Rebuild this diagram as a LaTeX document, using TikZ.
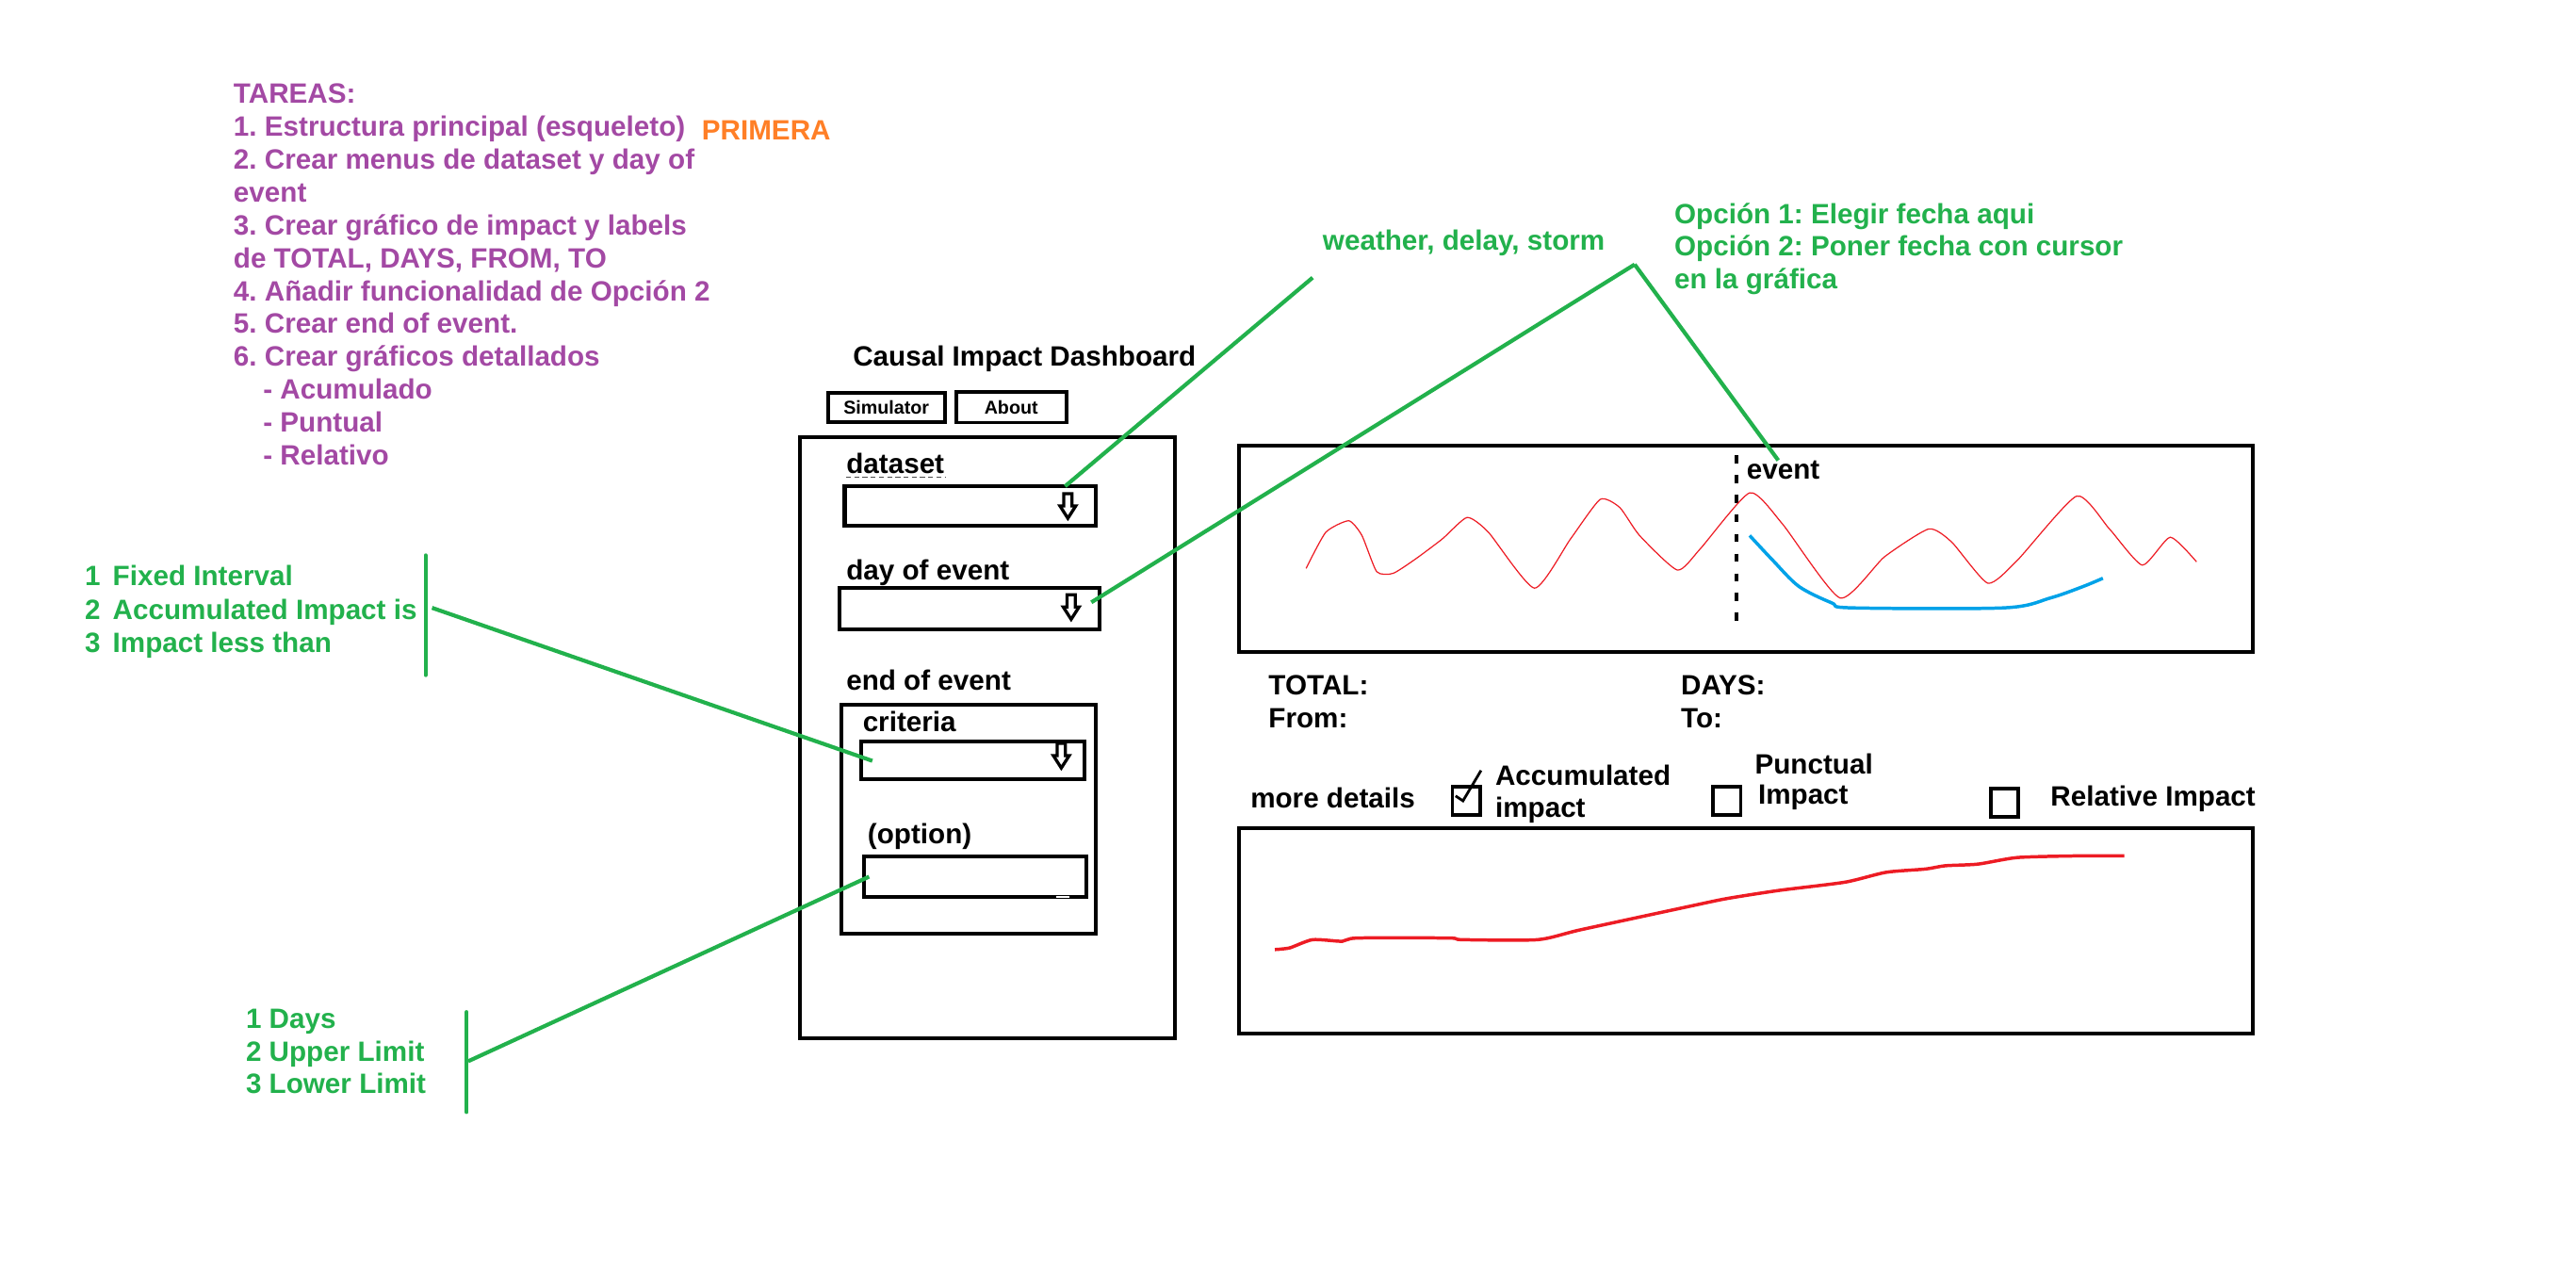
\documentclass[tikz,border=0pt]{standalone}
\usepackage{fontspec}
\setmainfont{Liberation Sans}
\usetikzlibrary{positioning}
\definecolor{taskpurple}{HTML}{A349A4}
\definecolor{notegreen}{HTML}{22B14C}
\definecolor{firstorange}{HTML}{FF7F27}
\definecolor{plotred}{HTML}{ED1C24}
\definecolor{plotblue}{HTML}{00A2E8}
\frenchspacing
\tikzset{
  sketch/.style={font=\bfseries\fontsize{17}{20}\selectfont,inner sep=0pt,anchor=base west},
  task/.style={sketch,text=taskpurple},
  note/.style={sketch,text=notegreen},
  frame/.style={draw,line width=2.3pt,inner sep=0pt,anchor=north west},
  button/.style={draw,line width=2.2pt,inner sep=0pt,font=\bfseries\fontsize{11.3}{13}\selectfont},
  checkbox/.style={draw,line width=2.2pt,minimum size=17pt,inner sep=0pt,anchor=north west},
  pointer/.style={notegreen,line width=2.4pt},
  bar/.style={notegreen,line width=2.3pt,line cap=round},
  downarr/.pic={\draw[line width=1.9pt,fill=white] (-2.5,-8) -- (2.5,-8) -- (2.5,-0.5) -- (4.8,-0.5) -- (0,7) -- (-4.8,-0.5) -- (-2.5,-0.5) -- cycle;}
}
\begin{document}
\begin{tikzpicture}[x=1pt,y=-1pt]
  \useasboundingbox (0,0) rectangle (1568,783);
  % task list
  \foreach \txt [count=\i from 0] in {TAREAS:,
      1. Estructura principal (esqueleto),
      2. Crear menus de dataset y day of,
      event,
      3. Crear gráfico de impact y labels,
      {de TOTAL, DAYS, FROM, TO},
      4. Añadir funcionalidad de Opción 2,
      5. Crear end of event.,
      6. Crear gráficos detallados,
      \hspace*{18pt}- Acumulado,
      \hspace*{18pt}- Puntual,
      \hspace*{18pt}- Relativo}
    \node[task] (t\i) at (142,63+20*\i) {\txt};
  \node[sketch,text=firstorange] (first) at (427,85) {PRIMERA};

  % left panel
  \node[sketch] (title) at (519,223) {Causal Impact Dashboard};
  \node[button,minimum width=71pt,minimum height=18pt] (sim) at (539.5,248) {Simulator};
  \node[button,minimum width=67pt,minimum height=18.5pt] (about) at (615.5,248) {About};
  \node[frame,minimum width=228pt,minimum height=366pt] (panel) at (486,265) {};
  \node[sketch] (dslbl) at (515,288) {dataset};
  \draw[black!70,line width=0.6pt,dash pattern=on 3pt off 2pt] (dslbl.base west) ++(0,2.5) -- ++(61,0);
  \node[frame,minimum width=153pt,minimum height=24pt] (dsmenu) at (513,295) {};
  \pic at (650,308.5) {downarr};
  \node[sketch] (daylbl) at (515,353) {day of event};
  \node[frame,minimum width=158pt,minimum height=25pt] (daymenu) at (510,357) {};
  \pic at (652,370) {downarr};
  \node[sketch] (endlbl) at (515,420) {end of event};
  \node[frame,minimum width=155pt,minimum height=139pt] (endbox) at (511,428) {};
  \node[sketch] (critlbl) at (525,445.5) {criteria};
  \node[frame,minimum width=136pt,minimum height=23pt] (critmenu) at (523,450) {};
  \pic at (646,460.5) {downarr};
  \node[sketch] (optlbl) at (528,513.5) {(option)};
  \node[frame,minimum width=135pt,minimum height=25pt] (optbox) at (525,520) {};
  \draw[white,line width=1pt] (643,546) -- (651,546);

  % impact chart
  \node[frame,minimum width=617pt,minimum height=126pt] (chart) at (753,270) {};
  \draw[line width=2pt,dash pattern=on 5pt off 7pt] (1057,277) -- (1057,384);
  \node[sketch] (eventlbl) at (1063,291.5) {event};
  \draw[plotred,line width=0.7pt] plot[smooth,tension=0.35] coordinates {
    (795,346) (807,324) (821,317) (829,326) (838,348) (848,349) (862,340)
    (878,328) (893,315) (906,324) (934,358) (956,328) (974,304) (986,309)
    (998,326) (1021,347) (1035,334) (1065,300) (1085,319) (1120,364)
    (1147,339) (1174,322) (1188,330) (1210,355) (1228,341) (1264,302)
    (1284,322) (1304,344) (1321,327) (1337,342)};
  \draw[plotblue,line width=2pt] plot[smooth,tension=0.5] coordinates {
    (1065,326) (1079,341) (1095,357) (1115,367) (1127,370) (1220,370)
    (1248,364) (1268,357) (1280,352)};

  \node[sketch] (total) at (772,423) {TOTAL:};
  \node[sketch] (from) at (772,443) {From:};
  \node[sketch] (days) at (1023,423) {DAYS:};
  \node[sketch] (to) at (1023,443) {To:};

  % detail charts
  \node[sketch] (more) at (761,492) {more details};
  \node[checkbox] (cbacc) at (883,478) {};
  \draw[line width=1.6pt] (886,484.5) -- (890.5,487.5) -- (901.5,469);
  \node[sketch] (acc1) at (910,478) {Accumulated};
  \node[sketch] (acc2) at (910,497.5) {impact};
  \node[checkbox] (cbpun) at (1041.5,478) {};
  \node[sketch] (pun1) at (1068,471) {Punctual};
  \node[sketch] (pun2) at (1070,489.5) {Impact};
  \node[checkbox] (cbrel) at (1210.5,479) {};
  \node[sketch] (rel) at (1248,490.5) {Relative Impact};
  \node[frame,minimum width=617pt,minimum height=125pt] (detail) at (753,503) {};
  \draw[plotred,line width=2pt] plot[smooth,tension=0.4] coordinates {
    (776,578) (785,577) (799,572) (817,573) (826,571) (882,571) (890,572)
    (936,572) (962,566) (1027,552) (1051,547) (1083,542) (1123,537)
    (1148,531) (1172,529) (1184,527) (1204,526) (1228,522) (1264,521) (1293,521)};

  % notes
  \node[note] (crit1) at (51.5,356.5) {1\hspace{7.5pt}Fixed Interval};
  \node[note] (crit2) at (51.5,377) {2\hspace{7.5pt}Accumulated Impact is};
  \node[note] (crit3) at (51.5,397) {3\hspace{7.5pt}Impact less than};
  \node[note] (opt1) at (149.5,626) {1 Days};
  \node[note] (opt2) at (149.5,646) {2 Upper Limit};
  \node[note] (opt3) at (149.5,665.5) {3 Lower Limit};
  \node[note] (kinds) at (805,152.5) {weather, delay, storm};
  \node[note] (date1) at (1019,136) {Opción 1: Elegir fecha aqui};
  \node[note] (date2) at (1019,156) {Opción 2: Poner fecha con cursor};
  \node[note] (date3) at (1019,175.5) {en la gráfica};

  \coordinate (critbartop) at (259,338);
  \coordinate (critbarbot) at (259,411);
  \coordinate (critjoin) at (263,370);
  \coordinate (optbartop) at (284,616);
  \coordinate (optbarbot) at (284,677);
  \coordinate (optjoin) at (285,646);
  \coordinate (kindsend) at (799,169);
  \coordinate (datehub) at (995,161);

  \draw[bar] (critbartop) -- (critbarbot);
  \draw[bar] (optbartop) -- (optbarbot);
  \draw[pointer] (critjoin) -- ([xshift=8pt,yshift=-0.5pt]critmenu.west);
  \draw[pointer] (optjoin) -- ([xshift=4pt]optbox.west);
  \draw[pointer] (kindsend) -- ([xshift=-20pt,yshift=-1pt]dsmenu.north east);
  \draw[pointer] (datehub) -- ([xshift=-6pt,yshift=4pt]daymenu.east);
  \draw[pointer] (datehub) -- ([xshift=-3pt]eventlbl.north);
\end{tikzpicture}
\end{document}
